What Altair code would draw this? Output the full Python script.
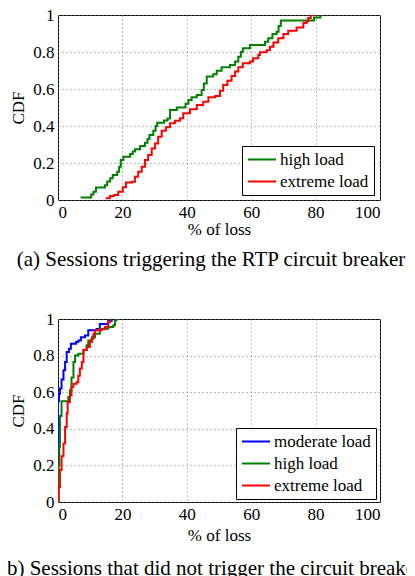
import altair as alt
import pandas as pd

FONT = "Liberation Serif"

# ---- Panel (a): sessions triggering the RTP circuit breaker ----
a_high_x = [7.0, 10.3, 11.0, 11.8, 14.6, 15.3, 16.2, 17.0, 18.4, 19.0, 19.5, 20.3,
            22.4, 23.2, 23.9, 25.5, 27.0, 27.8, 28.4, 29.6, 30.3, 30.8, 32.9, 34.0,
            34.8, 36.9, 39.6, 40.5, 41.5, 43.1, 44.6, 45.3, 46.2, 48.2, 49.3, 50.8,
            53.4, 55.0, 56.0, 56.8, 57.4, 59.6, 64.3, 65.3, 66.6, 67.9, 68.5, 69.2,
            79.5, 81.5]
a_high_y = [0.014, 0.03, 0.045, 0.068, 0.08, 0.1, 0.118, 0.135, 0.153, 0.18, 0.216, 0.234,
            0.249, 0.262, 0.274, 0.292, 0.31, 0.33, 0.351, 0.375, 0.4, 0.418, 0.43, 0.44,
            0.486, 0.5, 0.52, 0.54, 0.555, 0.568, 0.595, 0.63, 0.667, 0.68, 0.699, 0.717,
            0.73, 0.748, 0.775, 0.8, 0.82, 0.838, 0.855, 0.874, 0.897, 0.91, 0.94, 0.97,
            0.986, 1.0]
a_ext_x = [14.8, 16.1, 17.4, 18.7, 20.1, 21.1, 22.9, 23.9, 24.9, 26.0, 27.0, 28.0,
           29.1, 30.1, 31.1, 32.2, 33.5, 34.8, 36.3, 37.9, 38.9, 41.0, 43.1, 45.1,
           46.7, 48.8, 50.3, 51.3, 52.6, 53.9, 55.0, 56.0, 57.4, 59.6, 60.6, 62.2,
           62.7, 64.8, 65.8, 66.9, 68.4, 70.0, 71.5, 74.1, 76.2, 77.2, 77.7, 78.5, 79.5]
a_ext_y = [0.009, 0.022, 0.027, 0.045, 0.069, 0.094, 0.099, 0.126, 0.153, 0.18, 0.216, 0.243,
           0.279, 0.306, 0.342, 0.375, 0.393, 0.415, 0.429, 0.442, 0.469, 0.49, 0.514, 0.531,
           0.555, 0.562, 0.591, 0.622, 0.645, 0.67, 0.694, 0.717, 0.739, 0.748, 0.766, 0.784,
           0.798, 0.81, 0.829, 0.852, 0.874, 0.897, 0.915, 0.933, 0.957, 0.966, 0.984, 1.0, 1.0]

# ---- Panel (b): sessions that did not trigger the circuit breaker ----
b_mod_x = [0.0, 0.0, 0.3, 0.6, 1.1, 1.7, 2.2, 2.7, 3.4, 4.0, 5.6, 6.3, 7.1, 8.4, 9.4,
           12.0, 13.0, 15.6, 16.7]
b_mod_y = [0.0, 0.55, 0.59, 0.62, 0.67, 0.72, 0.765, 0.82, 0.838, 0.865, 0.875, 0.883,
           0.9, 0.91, 0.938, 0.946, 0.973, 0.99, 1.0]
b_high_x = [0.0, 0.2, 0.4, 0.6, 1.1, 3.2, 3.7, 4.2, 4.8, 5.3, 6.3, 7.9, 8.9, 9.4, 10.5,
            11.5, 13.0, 15.6, 17.2, 17.7, 18.2]
b_high_y = [0.0, 0.2, 0.3, 0.47, 0.55, 0.574, 0.61, 0.68, 0.765, 0.8, 0.81, 0.83, 0.856,
            0.883, 0.9, 0.92, 0.947, 0.956, 0.966, 0.993, 1.0]
b_ext_x = [0.0, 0.2, 0.6, 1.1, 1.7, 2.2, 2.7, 3.0, 3.7, 4.2, 4.8, 5.8, 6.3, 6.8, 7.4,
           7.9, 8.9, 9.9, 10.5, 11.0, 11.5, 13.6, 14.6, 15.6, 16.1]
b_ext_y = [0.0, 0.08, 0.175, 0.25, 0.32, 0.41, 0.485, 0.546, 0.583, 0.63, 0.646, 0.656,
           0.69, 0.73, 0.765, 0.83, 0.847, 0.874, 0.892, 0.92, 0.938, 0.945, 0.956, 0.984, 1.0]

x_ticks = [0, 20, 40, 60, 80, 100]
y_ticks = [0, 0.2, 0.4, 0.6, 0.8, 1]

names = ["moderate load", "high load", "extreme load"]
colors = ["#0000ff", "#008000", "#ff0000"]


def frame(series):
    rows = []
    for name, xs, ys in series:
        for i, (x, y) in enumerate(zip(xs, ys)):
            rows.append({"series": name, "loss": x, "cdf": y, "order": i})
    return pd.DataFrame(rows)


def panel(df, dom, rng, caption, lx, ly, h, xt_pad, cap_off):
    return alt.Chart(df).mark_line(interpolate="step-after", strokeWidth=2, clip=True).encode(
        x=alt.X("loss:Q", scale=alt.Scale(domain=[0, 100], nice=False),
                axis=alt.Axis(values=x_ticks, title="% of loss", grid=True, titlePadding=xt_pad)),
        y=alt.Y("cdf:Q", scale=alt.Scale(domain=[0, 1], nice=False),
                axis=alt.Axis(values=y_ticks, labelExpr="'' + datum.value", title="CDF",
                              grid=True, titlePadding=5)),
        color=alt.Color("series:N", sort=dom, scale=alt.Scale(domain=dom, range=rng),
                        legend=alt.Legend(title=None, orient="none", legendX=lx, legendY=ly)),
        order="order:Q",
    ).properties(
        width=322, height=h,
        title=alt.TitleParams(caption, orient="bottom", anchor="middle", font=FONT,
                              fontSize=21, fontWeight="normal", color="black",
                              offset=cap_off, dx=-8),
    )


top = panel(frame([("high load", a_high_x, a_high_y), ("extreme load", a_ext_x, a_ext_y)]),
            names[1:], colors[1:], "(a) Sessions triggering the RTP circuit breaker",
            184, 131, 185, 1, 12)
bottom = panel(frame([("moderate load", b_mod_x, b_mod_y), ("high load", b_high_x, b_high_y),
                      ("extreme load", b_ext_x, b_ext_y)]),
               names, colors, "(b) Sessions that did not trigger the circuit breaker",
               178, 109, 183, 5, 15)

chart = alt.vconcat(top, bottom, spacing=119, bounds="flush").resolve_scale(
    color="independent").resolve_legend(color="independent").properties(
    autosize=alt.AutoSizeParams(type="none"),
    padding={"left": 50, "top": 7, "right": 27, "bottom": 561}, background="white"
).configure_axis(
    labelFont=FONT, titleFont=FONT, labelFontSize=17, titleFontSize=17,
    titleFontWeight="normal", labelColor="black", titleColor="black",
    tickSize=0, domain=False, labelPadding=4,
    gridColor="#777777", gridDash=[1, 3], gridWidth=1,
).configure_view(
    stroke="black", strokeWidth=1
).configure_legend(
    labelFont=FONT, labelFontSize=17, labelColor="black", strokeColor="black",
    fillColor="white", padding=5, cornerRadius=0, symbolType="stroke",
    symbolStrokeWidth=2, symbolSize=784, labelOffset=3, rowPadding=4,
    clipHeight=17, labelLimit=200,
)

chart.save("out.html", embed_options={"renderer": "svg", "actions": False})
